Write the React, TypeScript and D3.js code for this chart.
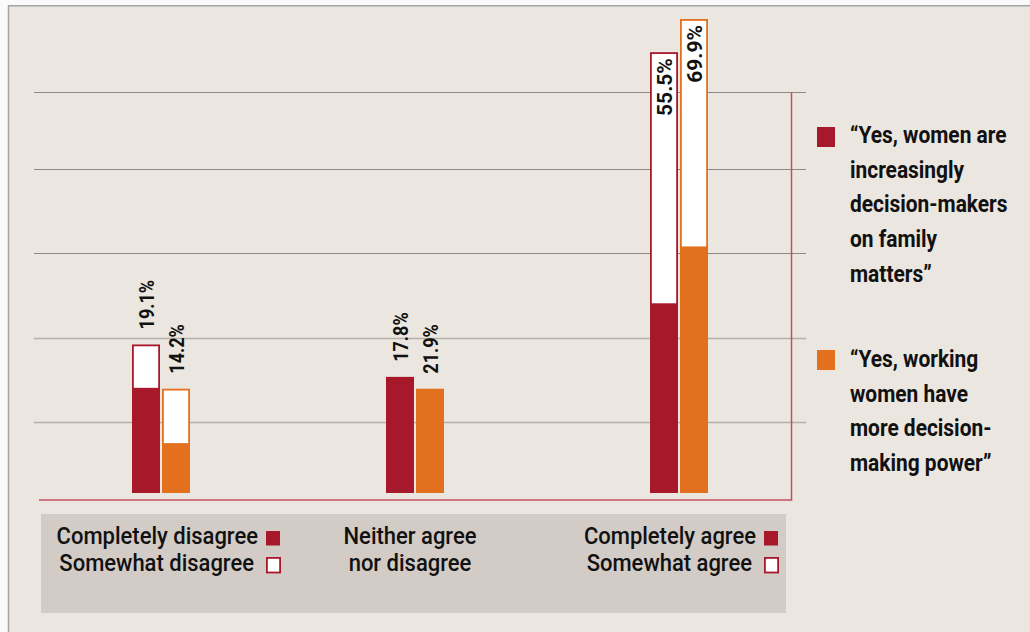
import React from "react";
import * as d3 from "d3";

const categories = ["disagree", "neither", "agree"];
const categoryLines = [
  ["Completely disagree", "Somewhat disagree"],
  ["Neither agree", "nor disagree"],
  ["Completely agree", "Somewhat agree"],
];
const categoryHasKeys = [true, false, true];

const seriesNames = ["family", "working"];
const seriesLegend = [
  ["\u201cYes, women are", "increasingly", "decision-makers", "on family", "matters\u201d"],
  ["\u201cYes, working", "women have", "more decision-", "making power\u201d"],
];
const seriesColors = ["#A8182B", "#E3701F"];

// bar segment heights as drawn (in the chart's own units)
const familyCompletely = [13.2, 14.7, 23.9];
const familySomewhat = [5.6, 0, 31.9];
const workingCompletely = [6.2, 13.2, 31.1];
const workingSomewhat = [7.0, 0, 28.9];
const familyLabels = ["19.1%", "17.8%", "55.5%"];
const workingLabels = ["14.2%", "21.9%", "69.9%"];
const gridValues = [9.0, 19.6, 30.4, 41.0, 50.8];

const W = 1030;
const H = 632;
const FONT = "Roboto, 'Noto Sans', sans-serif";

export default function App() {
  const y = d3.scaleLinear().domain([0, 60]).range([493, 19]);
  const x = d3.scaleOrdinal<string, number>().domain(categories).range([161, 415, 679]);
  const off = d3.scaleOrdinal<string, number>().domain(seriesNames).range([-29, 1]);
  const barW = 28;

  const series = [
    { name: "family", comp: familyCompletely, some: familySomewhat, labels: familyLabels, color: seriesColors[0] },
    { name: "working", comp: workingCompletely, some: workingSomewhat, labels: workingLabels, color: seriesColors[1] },
  ];

  const gridX0 = 34;
  const gridX1 = 806;
  const baseY = y(0) + 7;
  const rightX = 791.5;
  const catScale = 0.936;
  const legScale = 0.91;

  return (
    <div style={{ position: "absolute", left: 0, top: 0, width: W, height: H }}>
      <svg width={W} height={H} style={{ display: "block" }} fontFamily={FONT}>
        <rect x={0} y={0} width={W} height={H} fill="#FAFAFA" />
        <rect x={8} y={5} width={W - 8} height={H - 5} fill="#EBE6E0" />
        <line x1={8} x2={W} y1={5.75} y2={5.75} stroke="#A3A3A3" strokeWidth={1.5} />
        <line x1={8.5} x2={8.5} y1={5} y2={H} stroke="#A3A3A3" strokeWidth={1.5} />

        {gridValues.map((g, i) => (
          <line
            key={"g" + i}
            x1={gridX0}
            x2={gridX1}
            y1={Math.round(y(g)) + 0.5}
            y2={Math.round(y(g)) + 0.5}
            stroke={i >= 2 ? "#8E8985" : "#B5AFA9"}
            strokeWidth={i >= 2 ? 1 : 1.6}
          />
        ))}

        <line x1={39} x2={rightX + 0.75} y1={baseY} y2={baseY} stroke="#C2505F" strokeWidth={1.6} />
        <line x1={rightX} x2={rightX} y1={y(gridValues[4]) + 0.5} y2={baseY} stroke="#C2505F" strokeWidth={1.5} />

        {series.map((s) =>
          categories.map((c, i) => {
            const bx = x(c) + off(s.name);
            const yc = y(s.comp[i]);
            const ytop = y(s.comp[i] + s.some[i]);
            const tall = s.comp[i] + s.some[i] > 40;
            const cx = bx + barW / 2;
            return (
              <g key={s.name + c}>
                <rect x={bx} y={yc} width={barW} height={y(0) - yc} fill={s.color} />
                {s.some[i] > 0 && (
                  <rect
                    x={bx + 0.9}
                    y={ytop + 0.9}
                    width={barW - 1.8}
                    height={yc - ytop - 0.9}
                    fill="#FFFFFF"
                    stroke={s.color}
                    strokeWidth={1.8}
                  />
                )}
                <text
                  transform={`translate(${cx},${tall ? ytop + 6 : ytop - 15}) rotate(-90) scale(${tall ? 1.0 : 0.86},1)`}
                  dy="0.36em"
                  textAnchor={tall ? "end" : "start"}
                  fontSize={21}
                  fontWeight={700}
                  fill="#111"
                >
                  {s.labels[i]}
                </text>
              </g>
            );
          })
        )}

        {/* legend */}
        {seriesLegend.map((lines, si) => {
          const top = si === 0 ? 127 : 350;
          const base = si === 0 ? 143 : 367;
          return (
            <g key={"leg" + si}>
              <rect x={817} y={top} width={18} height={20} fill={seriesColors[si]} />
              {lines.map((t, li) => (
                <text
                  key={li}
                  transform={`translate(850,${base + li * 34.7}) scale(${legScale},1)`}
                  fontSize={23}
                  fontWeight={700}
                  fill="#111"
                >
                  {t}
                </text>
              ))}
            </g>
          );
        })}

        {/* category box */}
        <rect x={41} y={514} width={745} height={99} fill="#D3CBC5" />
        {categories.map((c, i) => {
          const lines = categoryLines[i];
          if (!categoryHasKeys[i]) {
            return (
              <g key={"cat" + c}>
                {lines.map((t, li) => (
                  <text
                    key={li}
                    transform={`translate(${x(c) - 5},${543.5 + li * 27}) scale(${catScale},1)`}
                    textAnchor="middle"
                    fontSize={23.5}
                    fontWeight={500}
                    fill="#111"
                  >
                    {t}
                  </text>
                ))}
              </g>
            );
          }
          const keyX = i === 0 ? 266 : 764;
          return (
            <g key={"cat" + c}>
              <text
                transform={`translate(${keyX - 8},543.5) scale(${catScale},1)`}
                textAnchor="end"
                fontSize={23.5}
                fontWeight={500}
                fill="#111"
              >
                {lines[0]}
              </text>
              <text
                transform={`translate(${keyX - 12},570.5) scale(${catScale},1)`}
                textAnchor="end"
                fontSize={23.5}
                fontWeight={500}
                fill="#111"
              >
                {lines[1]}
              </text>
              <rect x={keyX} y={531} width={14} height={14.5} fill={seriesColors[0]} />
              <rect x={keyX + 0.9} y={557.9} width={13.2} height={14.6} fill="#FFFFFF" stroke={seriesColors[0]} strokeWidth={1.8} />
            </g>
          );
        })}
      </svg>
    </div>
  );
}
